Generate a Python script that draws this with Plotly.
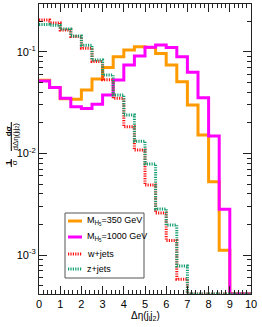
import plotly.graph_objects as go

# ---- data (bin edges 0..10, width 0.5) ----
bin_edges = [i * 0.5 for i in range(21)]
m350 = [0.0525, 0.0445, 0.0345, 0.034, 0.042, 0.054, 0.070, 0.089, 0.104, 0.112,
        0.110, 0.096, 0.074, 0.0507, 0.030, 0.0152, 0.00527, 0.00112, 0, 0]
m1000 = [0.0515, 0.0445, 0.0348, 0.0288, 0.0277, 0.0305, 0.0375, 0.0527, 0.074, 0.0907,
         0.1104, 0.1164, 0.110, 0.089, 0.0627, 0.0353, 0.0148, 0.00282, 0, 0]
wjets = [0.205, 0.192, 0.163, 0.141, 0.108, 0.080, 0.053, 0.0348, 0.0183, 0.0108,
         0.00489, 0.0026, 0.00139, 0.00058, 0, 0, 0, 0, 0, 0]
zjets = [0.185, 0.182, 0.167, 0.143, 0.116, 0.083, 0.059, 0.0375, 0.0239, 0.0132,
         0.00787, 0.00285, 0.00198, 0.00078, 0, 0, 0, 0, 0, 0]
names = ["M<sub>H<sub>5</sub></sub>=350 GeV", "M<sub>H<sub>5</sub></sub>=1000 GeV", "w+jets", "z+jets"]
x_ticks = list(range(11))
y_major = [1e-3, 1e-2, 1e-1]
y_major_text = ["10<sup>-3</sup>", "10<sup>-2</sup>", "10<sup>-1</sup>"]

YLOG = [-3.382, -0.531]
FLOOR = 10 ** YLOG[0]

FONT = "Liberation Sans, Arial, Helvetica, sans-serif"

# plot area in pixels
L, R, T, B = 39, 251, 4, 294


def px_x(p):
    return (p - L) / float(R - L)


def px_y(p):
    return (B - p) / float(B - T)


def step_y(vals):
    v = [val if val > 0 else FLOOR for val in vals]
    return v + [v[-1]]


fig = go.Figure()
styles = [
    dict(color="#ff9a00", width=3),
    dict(color="#ff00ff", width=3),
    dict(color="#ff1010", width=3, dash="1.2px,1.2px"),
    dict(color="#139e6e", width=3, dash="1.2px,1.2px"),
]
for vals, nm, st in zip([m350, m1000, wjets, zjets], names, styles):
    fig.add_trace(go.Scatter(x=bin_edges, y=step_y(vals), mode="lines",
                             line=dict(shape="hv", **st), name=nm, showlegend=False))

axis_common = dict(showgrid=False, zeroline=False, showline=True, linecolor="#222",
                   linewidth=1, mirror="allticks", ticks="inside", tickcolor="#222",
                   automargin=False,
                   tickfont=dict(family=FONT, size=11, color="black"))

fig.update_xaxes(range=[0, 10], tickvals=x_ticks, ticklen=8,
                 minor=dict(ticks="inside", dtick=0.2, ticklen=4, tickcolor="#222"),
                 **axis_common)
fig.update_yaxes(type="log", range=YLOG, tickvals=y_major, ticktext=y_major_text,
                 ticklen=8,
                 minor=dict(ticks="inside", dtick="D1", ticklen=4, tickcolor="#222"),
                 **axis_common)

ann = []
# x title
ann.append(dict(text="Δη(j<sub>l</sub>j<sub>2</sub>)", xref="paper", yref="paper",
                x=0.5, y=px_y(308), xanchor="center", yanchor="top", showarrow=False,
                font=dict(family=FONT, size=10, color="black")))

# y title built as two rotated fractions
yt = [
    ("<b>dσ</b>", 8.3, 131),
    ("dΔη(j<sub>l</sub>j<sub>2</sub>)", 15.5, 137),
    ("<b>1</b>", 8.0, 163),
    ("σ", 14.2, 163),
]
for t, xx, yy in yt:
    ann.append(dict(text=t, xref="paper", yref="paper", x=px_x(xx), y=px_y(yy),
                    xanchor="center", yanchor="middle", textangle=-90, showarrow=False,
                    font=dict(family=FONT, size=8, color="black")))

shapes = [
    dict(type="line", xref="paper", yref="paper", x0=px_x(11.3), x1=px_x(11.3),
         y0=px_y(122), y1=px_y(151), line=dict(color="black", width=1)),
    dict(type="line", xref="paper", yref="paper", x0=px_x(11.3), x1=px_x(11.3),
         y0=px_y(159), y1=px_y(167), line=dict(color="black", width=1)),
]

# manual legend (ROOT-like compact box)
LEG_X0, LEG_X1, LEG_Y0, LEG_Y1 = 65, 144, 213, 278
shapes.append(dict(type="rect", xref="paper", yref="paper",
                   x0=px_x(LEG_X0), x1=px_x(LEG_X1), y0=px_y(LEG_Y1), y1=px_y(LEG_Y0),
                   line=dict(color="#555", width=1), fillcolor="white", layer="above"))
entry_y = [221, 237, 254, 269]
for nm, st, ey in zip(names, styles, entry_y):
    ln = dict(color=st["color"], width=st["width"])
    if "dash" in st:
        ln["dash"] = st["dash"]
    shapes.append(dict(type="line", xref="paper", yref="paper",
                       x0=px_x(68), x1=px_x(82), y0=px_y(ey), y1=px_y(ey),
                       line=ln, layer="above"))
    ann.append(dict(text=nm, xref="paper", yref="paper", x=px_x(84.5), y=px_y(ey),
                    xanchor="left", yanchor="middle", showarrow=False,
                    font=dict(family=FONT, size=9, color="black")))

fig.update_layout(
    width=262, height=327,
    margin=dict(l=L, r=262 - R, t=T, b=327 - B, autoexpand=False),
    paper_bgcolor="white", plot_bgcolor="white",
    showlegend=False,
    annotations=ann, shapes=shapes,
    font=dict(family=FONT),
)

fig.write_html("out.html", config={"displayModeBar": False},
               post_script="document.body.style.margin='0px';")
